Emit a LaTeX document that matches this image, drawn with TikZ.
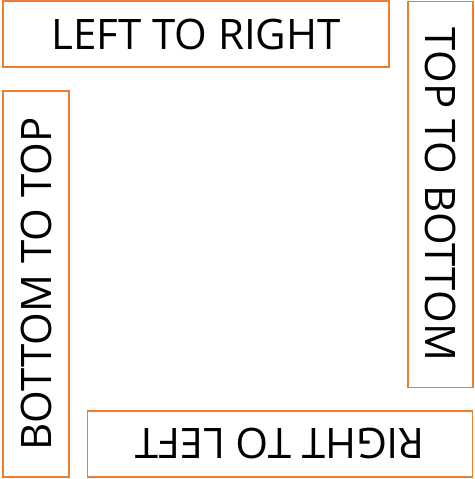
\documentclass[tikz,border=0pt]{standalone}
\usepackage{fontspec}
\setmainfont{Open Sans}
\definecolor{boxorange}{HTML}{ED7D31}
\tikzset{dirbox/.style={draw=boxorange,line width=1.5pt,inner sep=0pt,
  font=\fontsize{42}{42}\selectfont}}
\begin{document}
\begin{tikzpicture}[x=1pt,y=-1pt]
\useasboundingbox (0,0) rectangle (474,479);
\node[dirbox,minimum width=386,minimum height=66] (ltr) at (196,34) {LEFT TO RIGHT};
\node[dirbox,minimum width=386,minimum height=65,rotate=-90] (ttb) at (440.5,194.5) {TOP TO BOTTOM};
\node[dirbox,minimum width=386,minimum height=66,rotate=90] (btt) at (36,284) {BOTTOM TO TOP};
\node[dirbox,minimum width=385,minimum height=66,rotate=180] (rtl) at (280,444) {RIGHT TO LEFT};
\end{tikzpicture}
\end{document}
